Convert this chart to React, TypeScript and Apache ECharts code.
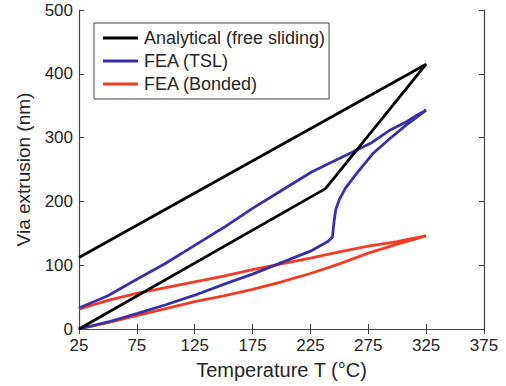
import React, { useEffect, useRef } from "react";
import * as echarts from "echarts";

// Analytical (free sliding): heating then cooling
const analyticalT = [25, 238, 325, 25];
const analyticalV = [0, 220, 415, 112];

// FEA (TSL): heating branch then cooling branch
const tslT = [25, 50, 75, 100, 125, 150, 175, 200, 225, 240, 244, 245.5, 247, 250, 255, 265, 279, 294, 308, 325,
  317, 308, 294, 277, 262, 245, 226, 200, 175, 150, 125, 100, 75, 50, 25];
const tslV = [0, 11, 24, 38, 53, 70, 86, 104, 122, 137, 144, 170, 188, 203, 220, 244, 275, 299, 320, 343,
  335, 325, 312, 291, 278, 263, 246, 217, 189, 159, 131, 103, 78, 52, 33];

// FEA (Bonded): heating branch then cooling branch
const bondedT = [25, 50, 75, 100, 125, 150, 175, 200, 225, 250, 275, 300, 325,
  310, 300, 275, 250, 225, 200, 175, 150, 125, 100, 75, 50, 25];
const bondedV = [0, 10, 21, 32, 43, 52, 62, 74, 87, 102, 119, 133, 146,
  141, 137, 130, 121, 111, 102, 93, 83, 74, 65, 56, 45, 31];

const seriesNames = ["Analytical (free sliding)", "FEA (TSL)", "FEA (Bonded)"];
const seriesColors = ["#000000", "#3a30a5", "#f03c22"];

const xTicks = { min: 25, max: 375, interval: 50 };
const yTicks = { min: 0, max: 500, interval: 100 };

const zip = (t: number[], v: number[]) => t.map((x, i) => [x, v[i]]);

export default function App() {
  const ref = useRef<HTMLDivElement>(null);
  useEffect(() => {
    if (!ref.current) return;
    const chart = echarts.init(ref.current, undefined, { renderer: "svg" });
    const font = "Liberation Sans, Arial, Helvetica, sans-serif";
    const axisColor = "#444";
    const textColor = "#262626";
    const baseAxis = {
      type: "value" as const,
      axisLine: { show: true, lineStyle: { color: axisColor, width: 1.2 } },
      axisTick: { show: true, inside: true, length: 5, lineStyle: { color: axisColor } },
      splitLine: { show: false },
    };
    const datasets = [zip(analyticalT, analyticalV), zip(tslT, tslV), zip(bondedT, bondedV)];
    chart.setOption({
      animation: false,
      backgroundColor: "#fff",
      grid: { left: 79, right: 22, top: 10, bottom: 57, containLabel: false },
      legend: {
        orient: "vertical",
        left: 94,
        top: 23,
        data: seriesNames,
        icon: "rect",
        itemWidth: 35,
        itemHeight: 3,
        itemGap: 5,
        padding: [6, 4, 6, 9],
        borderColor: "#444",
        borderWidth: 1,
        backgroundColor: "#fff",
        textStyle: { fontFamily: font, fontSize: 18, color: textColor, padding: [0, 0, 0, 1] },
      },
      xAxis: [
        {
          ...baseAxis,
          position: "bottom",
          ...xTicks,
          name: "Temperature T (°C)",
          nameLocation: "middle",
          nameGap: 31,
          nameTextStyle: { fontFamily: font, fontSize: 20, color: textColor },
          axisLabel: { fontFamily: font, fontSize: 17, color: textColor, margin: 8, showMinLabel: true, showMaxLabel: true },
        },
        {
          ...baseAxis,
          position: "top",
          ...xTicks,
          axisLabel: { show: false },
        },
      ],
      yAxis: [
        {
          ...baseAxis,
          position: "left",
          ...yTicks,
          name: "Via extrusion (nm)",
          nameLocation: "middle",
          nameGap: 46,
          nameTextStyle: { fontFamily: font, fontSize: 19, color: textColor },
          axisLabel: { fontFamily: font, fontSize: 17, color: textColor, margin: 6 },
        },
        {
          ...baseAxis,
          position: "right",
          ...yTicks,
          axisLabel: { show: false },
        },
      ],
      series: datasets.map((d, i) => ({
        name: seriesNames[i],
        type: "line",
        data: d,
        showSymbol: false,
        symbol: "none",
        color: seriesColors[i],
        lineStyle: { color: seriesColors[i], width: 2.8 },
        z: 3 - i,
      })),
    });
    return () => chart.dispose();
  }, []);
  return <div ref={ref} style={{ position: "absolute", left: 0, top: 0, width: 506, height: 386 }} />;
}
